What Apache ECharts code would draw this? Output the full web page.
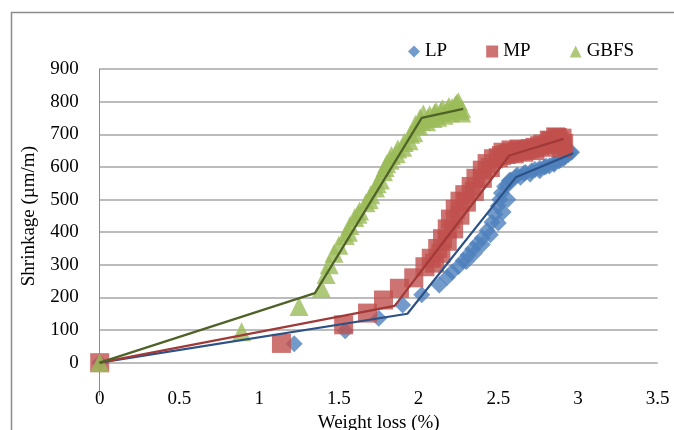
<!DOCTYPE html>
<html>
<head>
<meta charset="utf-8">
<script src="https://cdn.jsdelivr.net/npm/echarts@6/dist/echarts.min.js"></script>
<style>
html,body{margin:0;padding:0;background:#fff;}
#chart{width:674px;height:430px;}
</style>
</head>
<body>
<div id="chart"></div>
<script>
var SERIES_NAMES = ['LP', 'MP', 'GBFS'];
var X_TICKS = [0, 0.5, 1, 1.5, 2, 2.5, 3, 3.5];
var Y_TICKS = [0, 100, 200, 300, 400, 500, 600, 700, 800, 900];

var LP_POINTS = [
  [0,0],[1.22,58],[1.54,98],[1.75,136],[1.9,177],[2.02,208],[2.13,238],[2.18,262],
  [2.21,278],[2.25,295],[2.28,312],[2.31,330],[2.34,348],[2.37,365],[2.4,382],
  [2.43,405],[2.46,430],[2.48,455],[2.5,480],[2.51,500],[2.52,520],[2.54,540],
  [2.57,558],[2.61,570],[2.66,580],[2.71,588],[2.76,596],[2.8,602],[2.85,612],
  [2.89,622],[2.92,632],[2.95,645],[2.93,656],
  [2.3,310],[2.35,335],[2.4,362],[2.45,392],[2.5,428],[2.53,462],[2.56,500],
  [2.56,545],[2.58,560],[2.62,575],[2.64,568],[2.67,583],[2.7,578],[2.73,592],
  [2.76,588],[2.79,600],[2.82,603],[2.85,608],[2.88,618],[2.91,626],[2.94,638],[2.96,645]
];
var MP_POINTS = [
  [0,0],[1.14,59],[1.53,116],[1.68,152],[1.78,192],[1.88,228],[1.97,260],[2.04,294],
  [2.08,320],[2.12,350],[2.15,380],[2.18,410],[2.2,440],[2.23,470],[2.26,495],
  [2.29,515],[2.33,540],[2.36,565],[2.4,590],[2.43,610],[2.47,625],[2.52,635],
  [2.57,642],[2.62,648],[2.68,652],[2.73,660],[2.78,670],[2.83,680],[2.87,690],
  [2.9,688],[2.9,665],
  [2.1,305],[2.14,335],[2.18,372],[2.22,410],[2.26,452],[2.3,492],[2.35,525],
  [2.4,565],[2.45,598],[2.5,628],[2.53,645],[2.55,638],[2.58,652],[2.6,640],
  [2.63,655],[2.66,645],[2.7,656],[2.73,650],[2.76,665],[2.79,660],[2.82,682],
  [2.84,670],[2.86,692],[2.88,680],[2.91,672],[2.9,658]
];
var GBFS_POINTS = [
  [0,0],[0.89,95],[1.25,172],[1.39,228],[1.42,270],[1.44,300],[1.47,335],[1.5,360],
  [1.54,390],[1.57,420],[1.6,445],[1.63,465],[1.67,490],[1.7,515],[1.73,535],
  [1.76,560],[1.78,585],[1.8,610],[1.83,635],[1.87,655],[1.91,675],[1.95,700],
  [1.98,730],[2.01,750],[2.03,762],[2.06,750],[2.1,765],[2.14,770],[2.18,775],
  [2.21,782],[2.24,795],[2.26,772],[2.27,765],
  [1.56,400],[1.62,455],[1.69,500],[1.74,548],[1.79,598],[1.82,620],[1.86,640],
  [1.9,660],[1.94,680],[1.97,705],[2.0,725],[2.02,740],[2.05,738],[2.07,760],
  [2.09,748],[2.11,770],[2.12,752],[2.15,778],[2.16,758],[2.19,785],[2.2,765],
  [2.23,790],[2.25,800],[2.27,778]
];

var LP_FIT = [[0,0],[1.93,150],[2.61,568],[2.97,642]];
var MP_FIT = [[0,0],[1.85,174],[2.57,635],[2.91,686]];
var GBFS_FIT = [[0,0],[1.35,213],[2.02,750],[2.28,778]];

var FONT = 'Liberation Serif';
var chart = echarts.init(document.getElementById('chart'), null, {renderer: 'canvas'});

var gridColors = ['rgba(0,0,0,0)'];
for (var i = 0; i < Y_TICKS.length; i++) gridColors.push('#a6a6a6');

var option = {
  animation: false,
  backgroundColor: '#fff',
  textStyle: {fontFamily: FONT},
  graphic: [{
    type: 'rect', left: 9, top: 10, z: -10,
    shape: {width: 720, height: 460},
    style: {fill: 'none', stroke: '#8c8c8c', lineWidth: 1.5}
  }],
  legend: {
    left: 403, top: 37,
    itemWidth: 12, itemHeight: 12, itemGap: 39,
    textStyle: {fontFamily: FONT, fontSize: 19, color: '#000'},
    data: [
      {name: SERIES_NAMES[0], icon: 'diamond'},
      {name: SERIES_NAMES[1], icon: 'rect'},
      {name: SERIES_NAMES[2], icon: 'triangle'}
    ]
  },
  grid: {left: 99.7, right: 16.3, top: 69, bottom: 34.7, containLabel: false, outerBoundsMode: 'none'},
  xAxis: {
    type: 'value', min: X_TICKS[0], max: X_TICKS[X_TICKS.length - 1], interval: 0.5,
    axisLine: {show: false, onZero: false},
    axisTick: {show: false},
    splitLine: {show: false},
    axisLabel: {fontFamily: FONT, fontSize: 19, color: '#000', margin: -6},
    name: 'Weight loss (%)', nameLocation: 'middle', nameGap: 10,
    nameTextStyle: {fontFamily: FONT, fontSize: 19, color: '#000'}
  },
  yAxis: {
    type: 'value', min: -100, max: Y_TICKS[Y_TICKS.length - 1], interval: 100,
    axisLine: {show: true, lineStyle: {color: '#8c8c8c', width: 1}},
    axisTick: {show: false},
    splitLine: {show: true, lineStyle: {color: gridColors, width: 1.5}},
    axisLabel: {
      fontFamily: FONT, fontSize: 19, color: '#000', margin: 21,
      formatter: function (v) { return v < 0 ? '' : String(v); }
    },
    name: 'Shrinkage (\u00b5m/m)', nameLocation: 'middle', nameGap: 61, nameRotate: 90,
    nameTextStyle: {fontFamily: FONT, fontSize: 19, color: '#000', padding: [0, 0, 0, 32]}
  },
  series: [
    {name: SERIES_NAMES[0], type: 'scatter', symbol: 'diamond', symbolSize: 17,
     itemStyle: {color: '#4f81bd'}, data: LP_POINTS, z: 2},
    {name: SERIES_NAMES[1], type: 'scatter', symbol: 'rect', symbolSize: 19,
     itemStyle: {color: '#c0504d'}, data: MP_POINTS, z: 3},
    {name: SERIES_NAMES[2], type: 'scatter', symbol: 'triangle', symbolSize: 19,
     itemStyle: {color: '#9bbb59'}, data: GBFS_POINTS, z: 4},
    {name: 'LP fit', type: 'line', data: LP_FIT, showSymbol: false, symbol: 'none',
     lineStyle: {color: '#2c5186', width: 2.2}, z: 6},
    {name: 'MP fit', type: 'line', data: MP_FIT, showSymbol: false, symbol: 'none',
     lineStyle: {color: '#a03a38', width: 2.2}, z: 6},
    {name: 'GBFS fit', type: 'line', data: GBFS_FIT, showSymbol: false, symbol: 'none',
     lineStyle: {color: '#4f6228', width: 2.2}, z: 6}
  ]
};
chart.setOption(option);
</script>
</body>
</html>
